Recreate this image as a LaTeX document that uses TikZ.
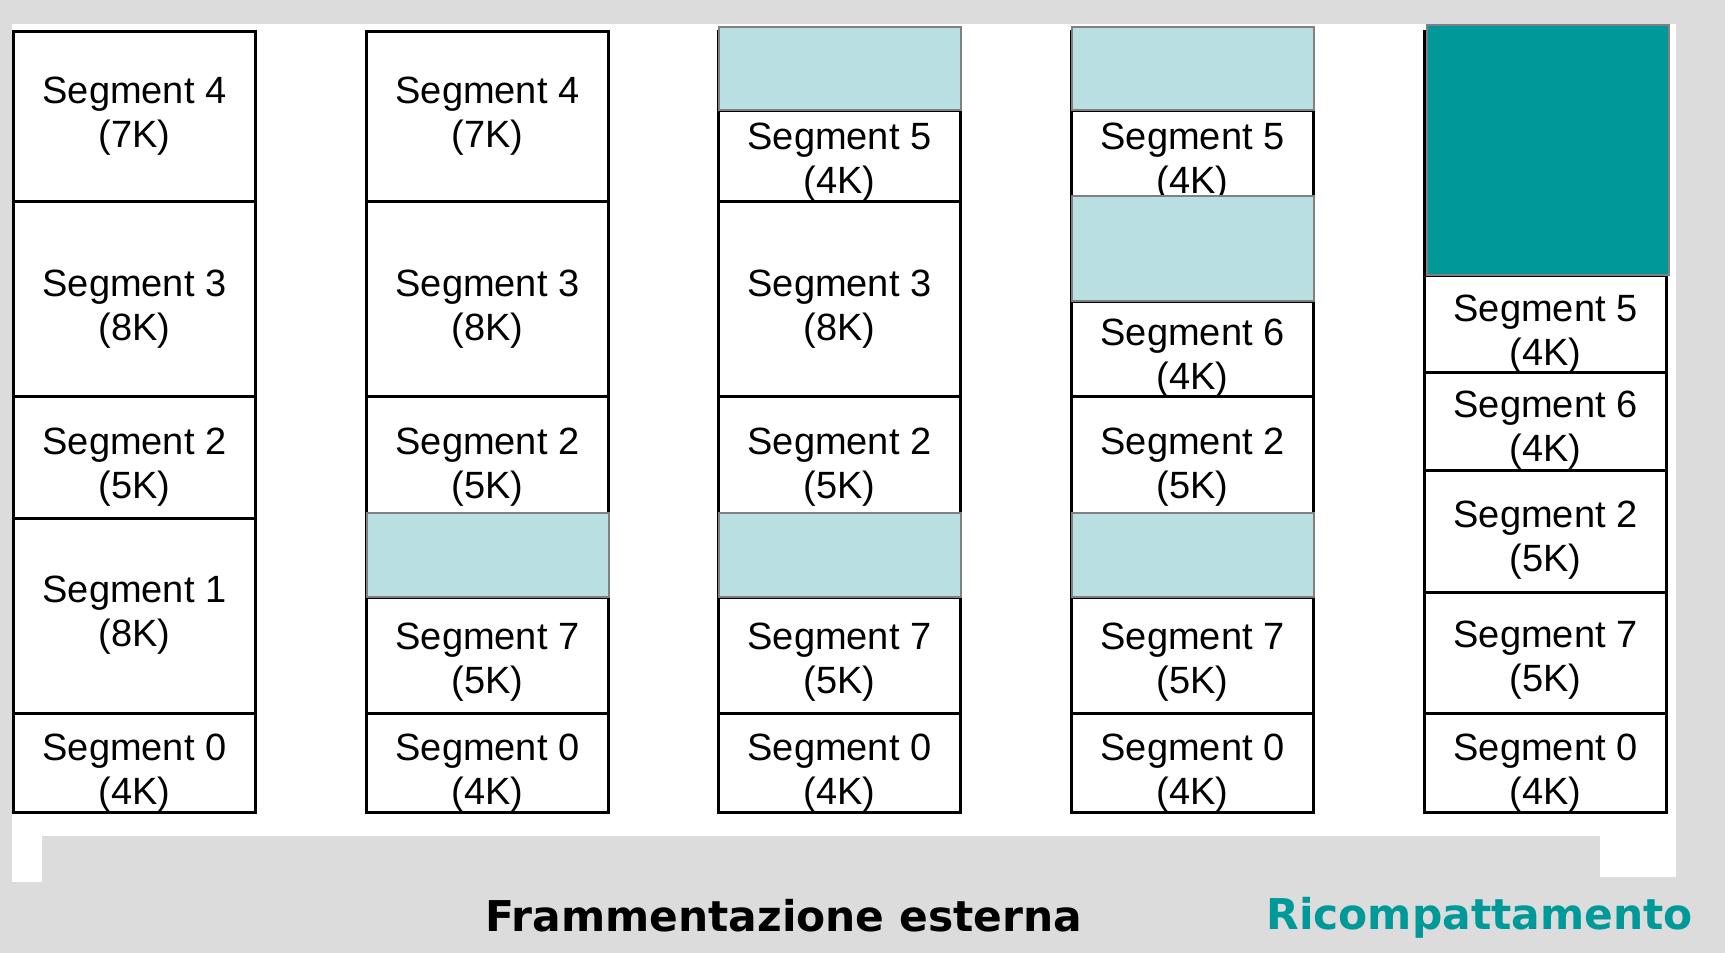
\documentclass[tikz,border=0pt]{standalone}
\usepackage{fontspec}
\setmainfont{Liberation Sans}
\newfontfamily\titlefont{DejaVu Sans}
\definecolor{bggray}{HTML}{DCDCDC}
\definecolor{holefill}{HTML}{B9DFE2}
\definecolor{holeedge}{HTML}{808080}
\definecolor{tealc}{HTML}{009999}
% name, x, top, bottom, number, size, text centre y
\newcommand\Seg[7]{%
  \draw[segbox] (#2,#3) rectangle ({#2+242},#4);
  \node[segtext] (#1) at ({#2+121},#7) {Segment #5\\(#6K)};}
\newcommand\Hole[4]{%
  \draw[#4] (#1,#2) rectangle ({#1+242},#3);}
\newcommand\Column[1]{%
  \draw[segbox] (#1,31) rectangle ({#1+242},812);}
\begin{document}
\begin{tikzpicture}[x=0.5pt,y=-0.5pt,
  segbox/.style={draw=black, line width=1.5pt, fill=white},
  hole/.style={draw=holeedge, line width=1pt, fill=holefill},
  bighole/.style={draw=holeedge, line width=1pt, fill=tealc},
  segtext/.style={font=\fontsize{19}{22}\selectfont, align=center, inner sep=0pt},
  caption/.style={font=\titlefont\bfseries\fontsize{21.2}{25}\selectfont, anchor=base west, inner sep=0pt}]
\useasboundingbox (0,0) rectangle (1725,953);
\fill[bggray] (0,0) rectangle (1725,953);
\fill[white] (12,24) rectangle (1676,836);
\fill[white] (12,836) rectangle (42,882);
\fill[white] (1600,836) rectangle (1676,877);
% column 1
\Column{13.5}
\Seg{aa4}{13.5}{31}{201}{4}{7}{116}
\Seg{aa3}{13.5}{201}{396}{3}{8}{309}
\Seg{aa2}{13.5}{396}{518}{2}{5}{467}
\Seg{aa1}{13.5}{518}{713}{1}{8}{615}
\Seg{aa0}{13.5}{713}{812}{0}{4}{773}
% column 2
\Column{366.5}
\Seg{bb4}{366.5}{31}{201}{4}{7}{116}
\Seg{bb3}{366.5}{201}{396}{3}{8}{309}
\Seg{bb2}{366.5}{396}{513}{2}{5}{467}
\Seg{bb7}{366.5}{597}{713}{7}{5}{662}
\Seg{bb0}{366.5}{713}{812}{0}{4}{773}
\Hole{366.5}{513}{597}{hole}
% column 3
\Column{718.5}
\Seg{cc5}{718.5}{110}{201}{5}{4}{162.5}
\Seg{cc3}{718.5}{201}{396}{3}{8}{309}
\Seg{cc2}{718.5}{396}{513}{2}{5}{467}
\Seg{cc7}{718.5}{597}{713}{7}{5}{662}
\Seg{cc0}{718.5}{713}{812}{0}{4}{773}
\Hole{718.5}{27}{110}{hole}
\Hole{718.5}{513}{597}{hole}
% column 4
\Column{1071.5}
\Seg{dd5}{1071.5}{110}{196}{5}{4}{162.5}
\Seg{dd6}{1071.5}{301}{396}{6}{4}{358}
\Seg{dd2}{1071.5}{396}{513}{2}{5}{467}
\Seg{dd7}{1071.5}{597}{713}{7}{5}{662}
\Seg{dd0}{1071.5}{713}{812}{0}{4}{773}
\Hole{1071.5}{27}{110}{hole}
\Hole{1071.5}{196}{301}{hole}
\Hole{1071.5}{513}{597}{hole}
% column 5
\Column{1424.5}
\Seg{ee5}{1424.5}{275}{372}{5}{4}{334}
\Seg{ee6}{1424.5}{372}{470}{6}{4}{430}
\Seg{ee2}{1424.5}{470}{592}{2}{5}{540.5}
\Seg{ee7}{1424.5}{592}{713}{7}{5}{660}
\Seg{ee0}{1424.5}{713}{812}{0}{4}{773}
\Hole{1426.5}{25}{275}{bighole}
% captions
\node[caption, text=black] (frag) at (485,931) {Frammentazione esterna};
\node[caption, text=tealc] (ricomp) at (1266,929) {Ricompattamento};
\end{tikzpicture}
\end{document}
